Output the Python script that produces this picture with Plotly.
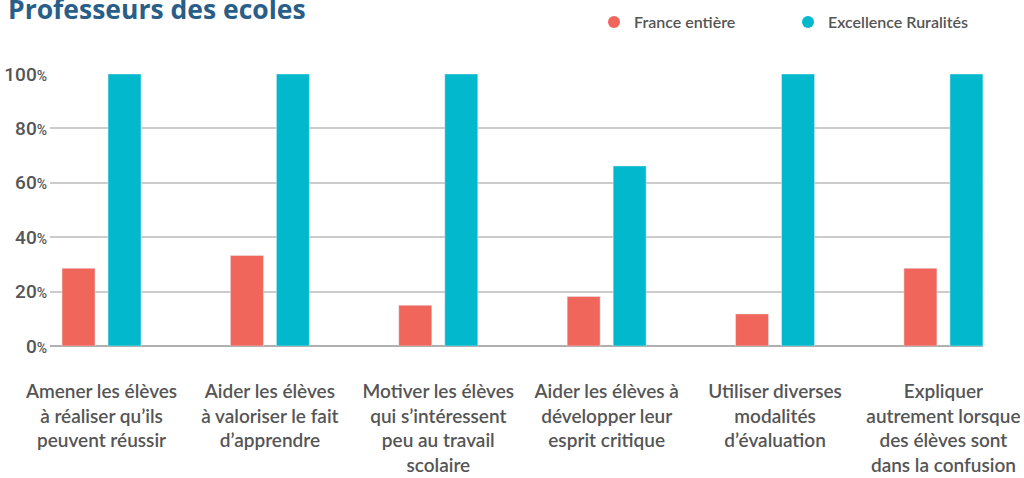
import plotly.graph_objects as go

categories = [
    "Amener les élèves<br>à réaliser qu’ils<br>peuvent réussir",
    "Aider les élèves<br>à valoriser le fait<br>d’apprendre",
    "Motiver les élèves<br>qui s’intéressent<br>peu au travail<br>scolaire",
    "Aider les élèves à<br>développer leur<br>esprit critique",
    "Utiliser diverses<br>modalités<br>d’évaluation",
    "Expliquer<br>autrement lorsque<br>des élèves sont<br>dans la confusion",
]
france = [28.6, 33.3, 15.0, 18.2, 11.8, 28.6]
excellence = [100, 100, 100, 66.2, 100, 100]
series_names = ["France entière", "Excellence Ruralités"]
colors = ["#F1665B", "#02B8CD"]
y_ticks = [0, 20, 40, 60, 80, 100]
y_ticktext = [f"{v}<span style='font-size:14px'>%</span>" for v in y_ticks]

BW = 0.196
GAP = 0.0386
fig = go.Figure()
fig.add_trace(go.Bar(x=categories, y=france, name=series_names[0], marker_color=colors[0],
                     width=BW, offset=-(BW + GAP), showlegend=False, hoverinfo="y"))
fig.add_trace(go.Bar(x=categories, y=excellence, name=series_names[1], marker_color=colors[1],
                     width=BW, offset=GAP, showlegend=False, hoverinfo="y"))
for n, c in zip(series_names, colors):
    fig.add_trace(go.Scatter(x=[None], y=[None], mode="markers", name=n,
                             marker=dict(color=c, size=15, symbol="circle")))

fig.update_layout(
    width=1024, height=478,
    margin=dict(l=50, r=41, t=74, b=132, autoexpand=False),
    paper_bgcolor="white", plot_bgcolor="white",
    font=dict(family="Lato", color="#555555"),
    title=dict(text="<b>Professeurs des ecoles</b>", x=0, xanchor="left", xref="container",
               y=0.98, yanchor="middle", pad=dict(l=8, t=0, b=0, r=0),
               font=dict(family="Open Sans", size=26.5, color="#285E88")),
    legend=dict(orientation="h", x=594/1024, xanchor="left", y=1 - 22/478, yanchor="middle",
                yref="container", xref="container",
                font=dict(size=16, color="#555555", family="Lato", weight=600),
                entrywidth=149, itemsizing="constant"),
    xaxis=dict(type="category", range=[-0.306, 5.235], showgrid=False, showline=False,
               automargin=False,
               ticks="", tickfont=dict(size=19, family="Lato", color="#555555", weight=600),
               ticklabelstandoff=32),
    yaxis=dict(range=[0, 100], tickvals=y_ticks, ticktext=y_ticktext, automargin=False,
               showgrid=True, gridcolor="#cccccc", gridwidth=1.5,
               zeroline=True, zerolinecolor="#b0b0b0", zerolinewidth=1.5,
               showline=False, ticks="", ticklabelstandoff=2,
               tickfont=dict(size=19, family="Roboto", color="#555555", weight=500)),
    barmode="overlay",
)
fig.write_html("out.html", post_script="document.body.style.margin='0';",
               config={"displayModeBar": False})
